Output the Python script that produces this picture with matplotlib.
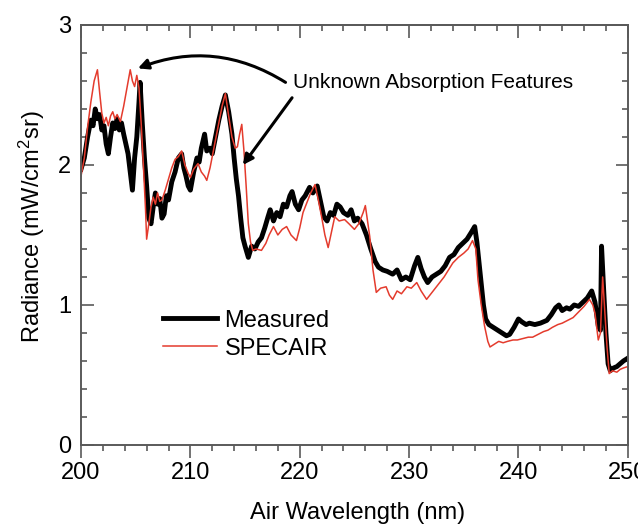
#/usr/bin/python3
#coding:utf-8

import matplotlib
matplotlib.use("Agg")
import matplotlib.pyplot as plt
from matplotlib.ticker import MultipleLocator

# measured spectrum (black)
meas_wl = [200.0, 200.3, 200.6, 200.9, 201.1, 201.3, 201.5, 201.7, 201.9, 202.1,
           202.3, 202.5, 202.7, 202.9, 203.1, 203.3, 203.5, 203.7, 203.9, 204.1,
           204.3, 204.5, 204.7, 204.9, 205.1, 205.3, 205.4, 205.6, 205.8, 206.0,
           206.2, 206.4, 206.6, 206.8, 207.0, 207.2, 207.4, 207.6, 207.8, 208.0,
           208.3, 208.6, 208.9, 209.2, 209.4, 209.6, 209.8, 210.0, 210.3, 210.6,
           210.8, 211.0, 211.3, 211.5, 211.8, 212.0, 212.3, 212.6, 212.9, 213.2,
           213.5, 213.8, 214.0, 214.2, 214.4, 214.6, 214.8, 215.0, 215.3, 215.6,
           215.9, 216.2, 216.5, 216.8, 217.1, 217.3, 217.6, 217.9, 218.2, 218.5,
           218.8, 219.1, 219.3, 219.6, 219.9, 220.2, 220.5, 220.9, 221.2, 221.6,
           221.9, 222.2, 222.5, 222.8, 223.1, 223.4, 223.7, 224.0, 224.4, 224.7,
           225.0, 225.3, 225.7, 226.1, 226.5, 226.9, 227.2, 227.6, 228.0, 228.5,
           228.9, 229.3, 229.7, 230.1, 230.5, 230.8, 231.1, 231.4, 231.7, 232.1,
           232.5, 232.9, 233.3, 233.7, 234.1, 234.5, 234.9, 235.3, 235.7, 236.0,
           236.2, 236.4, 236.6, 236.8, 237.0, 237.3, 237.7, 238.1, 238.5, 238.9,
           239.2, 239.6, 240.0, 240.3, 240.7, 241.0, 241.5, 242.0, 242.6, 243.0,
           243.4, 243.7, 244.0, 244.4, 244.7, 245.1, 245.5, 245.9, 246.3, 246.7,
           247.0, 247.3, 247.5, 247.6, 247.8, 248.0, 248.2, 248.4, 248.7, 249.0,
           249.3, 249.6, 250.0]
meas_rad = [1.97, 2.05, 2.20, 2.32, 2.28, 2.40, 2.33, 2.36, 2.25, 2.28,
            2.15, 2.08, 2.20, 2.30, 2.26, 2.33, 2.25, 2.30, 2.22, 2.15,
            2.08, 1.95, 1.82, 2.05, 2.20, 2.45, 2.59, 2.30, 2.05, 1.85,
            1.62, 1.58, 1.70, 1.80, 1.72, 1.76, 1.62, 1.65, 1.78, 1.75,
            1.88, 1.95, 2.05, 2.08, 1.98, 1.92, 1.85, 1.82, 1.95, 2.05,
            2.02, 2.12, 2.22, 2.10, 2.12, 2.08, 2.20, 2.32, 2.42, 2.50,
            2.38, 2.22, 2.05, 1.90, 1.78, 1.62, 1.48, 1.42, 1.34, 1.42,
            1.40, 1.45, 1.48, 1.55, 1.63, 1.68, 1.60, 1.66, 1.63, 1.72,
            1.70, 1.78, 1.81, 1.72, 1.68, 1.75, 1.78, 1.84, 1.80, 1.85,
            1.74, 1.63, 1.60, 1.66, 1.64, 1.72, 1.70, 1.66, 1.64, 1.68,
            1.60, 1.62, 1.58, 1.50, 1.40, 1.31, 1.27, 1.25, 1.24, 1.22,
            1.25, 1.18, 1.20, 1.18, 1.28, 1.34, 1.26, 1.20, 1.16, 1.20,
            1.22, 1.24, 1.28, 1.34, 1.36, 1.41, 1.44, 1.47, 1.52, 1.56,
            1.45, 1.30, 1.15, 1.00, 0.90, 0.86, 0.84, 0.82, 0.80, 0.78,
            0.79, 0.84, 0.90, 0.88, 0.86, 0.87, 0.86, 0.87, 0.89, 0.93,
            0.98, 1.00, 0.96, 0.98, 0.97, 1.00, 0.99, 1.02, 1.05, 1.10,
            1.02, 0.85, 0.82, 1.42, 1.10, 0.80, 0.58, 0.53, 0.55, 0.56,
            0.58, 0.60, 0.62]

# SPECAIR simulation (red)
spec_wl = [200.0, 200.3, 200.6, 200.9, 201.2, 201.5, 201.7, 201.9, 202.1, 202.3,
           202.5, 202.7, 202.9, 203.1, 203.3, 203.6, 203.9, 204.2, 204.5, 204.7,
           204.9, 205.1, 205.3, 205.5, 205.7, 205.9, 206.0, 206.2, 206.4, 206.6,
           206.8, 207.0, 207.2, 207.4, 207.7, 208.0, 208.3, 208.6, 208.9, 209.2,
           209.5, 209.8, 210.0, 210.3, 210.7, 211.0, 211.3, 211.5, 211.8, 212.0,
           212.3, 212.6, 212.9, 213.2, 213.5, 213.8, 214.1, 214.3, 214.5, 214.7,
           214.9, 215.1, 215.3, 215.5, 215.7, 216.0, 216.5, 216.9, 217.2, 217.6,
           218.0, 218.4, 218.8, 219.2, 219.7, 220.0, 220.3, 220.7, 221.0, 221.4,
           221.7, 222.0, 222.3, 222.6, 222.9, 223.2, 223.6, 224.1, 224.5, 225.0,
           225.4, 225.8, 226.0, 226.2, 226.4, 226.7, 227.0, 227.4, 227.9, 228.2,
           228.5, 228.9, 229.3, 229.8, 230.2, 230.7, 231.1, 231.6, 232.0, 232.4,
           232.8, 233.2, 233.6, 234.0, 234.5, 235.0, 235.4, 235.8, 236.1, 236.3,
           236.6, 236.9, 237.2, 237.4, 237.8, 238.2, 238.6, 239.0, 239.5, 239.9,
           240.4, 240.9, 241.3, 241.8, 242.3, 242.7, 243.1, 243.6, 244.0, 244.5,
           245.0, 245.5, 246.0, 246.5, 246.8, 247.0, 247.3, 247.5, 247.7, 247.9,
           248.1, 248.3, 248.6, 249.0, 249.3, 249.6, 250.0]
spec_rad = [1.92, 2.05, 2.27, 2.45, 2.60, 2.68, 2.52, 2.37, 2.30, 2.34,
            2.28, 2.35, 2.38, 2.33, 2.36, 2.31, 2.42, 2.55, 2.68, 2.60,
            2.56, 2.64, 2.55, 2.30, 2.00, 1.68, 1.47, 1.58, 1.70, 1.77,
            1.72, 1.80, 1.74, 1.75, 1.82, 1.90, 1.98, 2.04, 2.06, 2.10,
            2.00, 1.94, 1.91, 1.97, 2.01, 1.95, 1.92, 1.89, 1.98, 2.06,
            2.18, 2.30, 2.42, 2.51, 2.35, 2.20, 2.12, 2.13, 2.22, 2.29,
            2.10, 1.85, 1.58, 1.45, 1.39, 1.40, 1.39, 1.44, 1.50, 1.56,
            1.50, 1.54, 1.56, 1.50, 1.46, 1.55, 1.66, 1.74, 1.80, 1.86,
            1.75, 1.63, 1.50, 1.41, 1.52, 1.63, 1.60, 1.61, 1.58, 1.54,
            1.58, 1.66, 1.71, 1.60, 1.49, 1.25, 1.09, 1.12, 1.13, 1.07,
            1.04, 1.10, 1.08, 1.13, 1.12, 1.16, 1.10, 1.04, 1.08, 1.12,
            1.16, 1.20, 1.25, 1.30, 1.34, 1.37, 1.40, 1.46, 1.40, 1.18,
            1.00, 0.85, 0.74, 0.70, 0.72, 0.74, 0.73, 0.74, 0.75, 0.75,
            0.76, 0.77, 0.77, 0.79, 0.81, 0.82, 0.84, 0.86, 0.87, 0.89,
            0.91, 0.95, 0.99, 1.04, 1.00, 0.94, 0.75, 0.80, 1.20, 0.95,
            0.70, 0.51, 0.53, 0.52, 0.54, 0.55, 0.56]

x_ticks = [200, 210, 220, 230, 240, 250]
y_ticks = [0, 1, 2, 3]

note_text = "Unknown Absorption Features"
note_pos = (219.4, 2.59)
arrow_heads = [(205.2, 2.69), (214.8, 2.00)]
arrow_tails = [(218.7, 2.59), (219.3, 2.48)]

AXCOL = "#5a5a5a"
RED = "#e43b2d"


def style_axes(ax):
    ax.set_xlim(200, 250)
    ax.set_ylim(0, 3)
    ax.set_xticks(x_ticks)
    ax.set_yticks(y_ticks)
    ax.xaxis.set_minor_locator(MultipleLocator(2))
    ax.yaxis.set_minor_locator(MultipleLocator(0.2))

    for s in ax.spines.values():
        s.set_color(AXCOL)
        s.set_linewidth(1.4)

    ax.tick_params(axis="x", which="both", direction="out", colors=AXCOL,
                   labelcolor="black", labelsize=17, width=1.2, pad=3)
    ax.tick_params(axis="x", which="major", length=9)
    ax.tick_params(axis="x", which="minor", length=4.5)
    ax.tick_params(axis="y", which="both", direction="in", right=True,
                   colors=AXCOL, labelcolor="black", labelsize=17,
                   width=1.2, pad=7)
    ax.tick_params(axis="y", which="major", length=9)
    ax.tick_params(axis="y", which="minor", length=4.5)

    # top ticks point inward, bottom ones outward
    top = ax.secondary_xaxis("top")
    top.set_xticks(x_ticks)
    top.xaxis.set_minor_locator(MultipleLocator(2))
    top.tick_params(axis="x", which="both", direction="in", colors=AXCOL,
                    labeltop=False, width=1.2)
    top.tick_params(axis="x", which="major", length=9)
    top.tick_params(axis="x", which="minor", length=4.5)
    top.spines["top"].set_color(AXCOL)
    top.spines["top"].set_linewidth(1.4)


def main():
    plt.rcParams["font.family"] = ["Liberation Sans", "DejaVu Sans"]
    plt.rcParams["mathtext.default"] = "regular"

    fig = plt.figure(figsize=(6.38, 5.31), dpi=100)
    ax = fig.add_axes([0.127, 0.162, 0.857, 0.791])

    ax.plot(meas_wl, meas_rad, color="black", lw=3.5,
            solid_joinstyle="round", label="Measured")
    ax.plot(spec_wl, spec_rad, color=RED, lw=1.1, label="SPECAIR")

    style_axes(ax)

    ax.set_xlabel("Air Wavelength (nm)", fontsize=17, va="top")
    ax.xaxis.set_label_coords(0.506, -0.135)
    ax.set_ylabel("Radiance (mW/cm$^2$sr)", fontsize=17)
    ax.yaxis.set_label_coords(-0.062, 0.52)

    ax.text(note_pos[0], note_pos[1], note_text, fontsize=15,
            ha="left", va="center")
    ax.annotate("", xy=arrow_heads[0], xytext=arrow_tails[0],
                arrowprops=dict(arrowstyle="-|>,head_length=0.6,head_width=0.3",
                                color="black", lw=2.2,
                                connectionstyle="arc3,rad=0.25",
                                shrinkA=0, shrinkB=0))
    ax.annotate("", xy=arrow_heads[1], xytext=arrow_tails[1],
                arrowprops=dict(arrowstyle="-|>,head_length=0.6,head_width=0.3",
                                color="black", lw=2.2,
                                shrinkA=0, shrinkB=0))

    ax.legend(loc="upper left", bbox_to_anchor=(0.15, 0.322), frameon=False,
              fontsize=17, handlelength=2.3, handletextpad=0.3,
              labelspacing=0.25, borderpad=0, borderaxespad=0)

    fig.savefig("out.png", dpi=100)


if __name__ == '__main__':
    main()
